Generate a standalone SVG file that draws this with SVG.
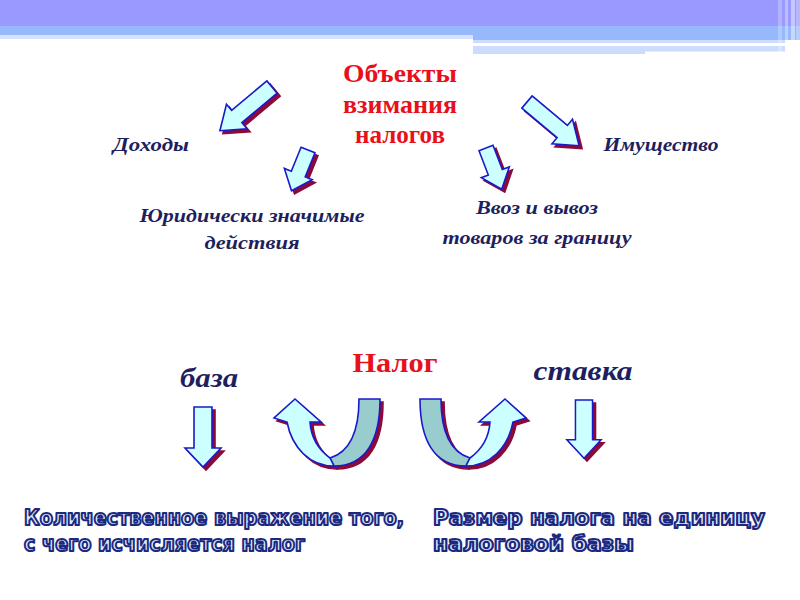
<svg xmlns="http://www.w3.org/2000/svg" xmlns:xlink="http://www.w3.org/1999/xlink" width="800" height="600" viewBox="0 0 800 600">
  <style>
    .title { font-family: "Liberation Serif", "Times New Roman", serif; font-weight: bold; fill: #E8101A; text-anchor: middle; }
    .label { font-family: "Liberation Serif", "Times New Roman", serif; font-weight: bold; font-style: italic; fill: #1F1F60; text-anchor: middle; }
    .outline { font-family: "DejaVu Sans Condensed", "DejaVu Sans", sans-serif; font-stretch: condensed; font-weight: bold; font-size: 22px; fill: #E4ECFF; stroke: #1B2A80; stroke-width: 2; stroke-linejoin: round; }
    .arrow { fill: #CCFFFF; stroke: #1A1ACC; stroke-width: 1.6; stroke-linejoin: miter; }
    .back { fill: #99CCCC; stroke: #1A1ACC; stroke-width: 1.6; }
    .shadow { fill: #8B0A3A; stroke: #8B0A3A; stroke-width: 1.6; }
  </style>
  <defs>
    <path id="longArrow" d="M-8,0 L8,0 L8,46 L16,46 L0,68 L-16,46 L-8,46 Z"/>
    <path id="shortArrow" d="M-7.5,0 L7.5,0 L7.5,26 L15,26 L0,44 L-15,26 L-7.5,26 Z"/>
    <path id="downArrow" d="M-9,0 L9,0 L9,41 L18,41 L0,60 L-18,41 L-9,41 Z"/>
    <path id="uBack" d="M359,399 L380,399 C380,440 366,466 334,466 L330,458 C350,452 359,430 359,399 Z"/>
    <path id="uFront" d="M287,422 C292,448 310,466 334,466 L330,458 C319,450 311,438 310,422 L321,422 L295,399 L274,418 Z"/>
  </defs>

  <!-- header decoration -->
  <g id="header">
    <rect x="0" y="0" width="800" height="27" fill="#9999FF"/>
    <rect x="0" y="26" width="800" height="10" fill="#97B9FC"/>
    <rect x="0" y="35" width="473" height="4" fill="#D6E2FF"/>
    <rect x="473" y="35" width="327" height="5" fill="#97B9FC"/>
    <rect x="473" y="40" width="312" height="3" fill="#CCDCFF"/>
    <rect x="473" y="43" width="268" height="2.5" fill="#FFFFFF"/>
    <rect x="473" y="46" width="172" height="8" fill="#CCDCFF"/>
    <rect x="645" y="46" width="140" height="5.5" fill="#CCDCFF"/>
    <rect x="778" y="0" width="4" height="54" fill="#FFFFFF" opacity="0.25"/>
    <rect x="785" y="0" width="3" height="54" fill="#FFFFFF" opacity="0.35"/>
    <rect x="791" y="0" width="4" height="54" fill="#FFFFFF" opacity="0.45"/>
    <rect x="796" y="0" width="4" height="54" fill="#FFFFFF" opacity="0.3"/>
  </g>

  <!-- nodes -->
  <g id="node-objects">
    <text class="title" font-size="25" x="400" y="82" textLength="114" lengthAdjust="spacingAndGlyphs">Объекты</text>
    <text class="title" font-size="25" x="400" y="113" textLength="114" lengthAdjust="spacingAndGlyphs">взимания</text>
    <text class="title" font-size="25" x="400" y="143" textLength="90" lengthAdjust="spacingAndGlyphs">налогов</text>
  </g>
  <g id="node-income">
    <text class="label" font-size="19" x="151" y="151" textLength="76" lengthAdjust="spacingAndGlyphs">Доходы</text>
  </g>
  <g id="node-property">
    <text class="label" font-size="19" x="661" y="151" textLength="115" lengthAdjust="spacingAndGlyphs">Имущество</text>
  </g>
  <g id="node-legal">
    <text class="label" font-size="19" x="252" y="222" textLength="225" lengthAdjust="spacingAndGlyphs">Юридически значимые</text>
    <text class="label" font-size="19" x="252" y="249" textLength="95" lengthAdjust="spacingAndGlyphs">действия</text>
  </g>
  <g id="node-import">
    <text class="label" font-size="19" x="537" y="214" textLength="122" lengthAdjust="spacingAndGlyphs">Ввоз и вывоз</text>
    <text class="label" font-size="19" x="537" y="244" textLength="189" lengthAdjust="spacingAndGlyphs">товаров за границу</text>
  </g>
  <g id="node-tax">
    <text class="title" font-size="27" x="395" y="372" textLength="85" lengthAdjust="spacingAndGlyphs">Налог</text>
  </g>
  <g id="node-base">
    <text class="label" font-size="28" x="209" y="387" textLength="58" lengthAdjust="spacingAndGlyphs">база</text>
  </g>
  <g id="node-rate">
    <text class="label" font-size="28" x="583" y="380" textLength="99" lengthAdjust="spacingAndGlyphs">ставка</text>
  </g>
  <g id="node-base-def">
    <text class="outline" x="24" y="525" textLength="380" lengthAdjust="spacingAndGlyphs">Количественное выражение того,</text>
    <text class="outline" x="24" y="551" textLength="281" lengthAdjust="spacingAndGlyphs">с чего исчисляется налог</text>
  </g>
  <g id="node-rate-def">
    <text class="outline" x="433" y="525" textLength="332" lengthAdjust="spacingAndGlyphs">Размер налога на единицу</text>
    <text class="outline" x="433" y="551" textLength="201" lengthAdjust="spacingAndGlyphs">налоговой базы</text>
  </g>

  <!-- connectors -->
  <g id="connectors">
    <!-- shadows -->
    <use xlink:href="#longArrow" class="shadow" transform="translate(275,90) rotate(50)"/>
    <use xlink:href="#longArrow" class="shadow" transform="translate(530,105) rotate(-50)"/>
    <use xlink:href="#shortArrow" class="shadow" transform="translate(311,153) rotate(22)"/>
    <use xlink:href="#shortArrow" class="shadow" transform="translate(489,151) rotate(-21)"/>
    <use xlink:href="#downArrow" class="shadow" transform="translate(206,410)"/>
    <use xlink:href="#downArrow" class="shadow" transform="translate(587,403) scale(0.95,0.97)"/>
    <use xlink:href="#uBack" class="shadow" transform="translate(3,3)"/>
    <use xlink:href="#uFront" class="shadow" transform="translate(3,3)"/>
    <use xlink:href="#uBack" class="shadow" transform="translate(803,3) scale(-1,1)"/>
    <use xlink:href="#uFront" class="shadow" transform="translate(803,3) scale(-1,1)"/>

    <!-- arrows -->
    <use xlink:href="#longArrow" class="arrow" transform="translate(272,87) rotate(50)"/>
    <use xlink:href="#longArrow" class="arrow" transform="translate(527,102) rotate(-50)"/>
    <use xlink:href="#shortArrow" class="arrow" transform="translate(308,150) rotate(22)"/>
    <use xlink:href="#shortArrow" class="arrow" transform="translate(486,148) rotate(-21)"/>
    <use xlink:href="#downArrow" class="arrow" transform="translate(203,407)"/>
    <use xlink:href="#downArrow" class="arrow" transform="translate(584,400) scale(0.95,0.97)"/>
    <use xlink:href="#uBack" class="back"/>
    <use xlink:href="#uFront" class="arrow"/>
    <use xlink:href="#uBack" class="back" transform="translate(800,0) scale(-1,1)"/>
    <use xlink:href="#uFront" class="arrow" transform="translate(800,0) scale(-1,1)"/>
  </g>
</svg>
